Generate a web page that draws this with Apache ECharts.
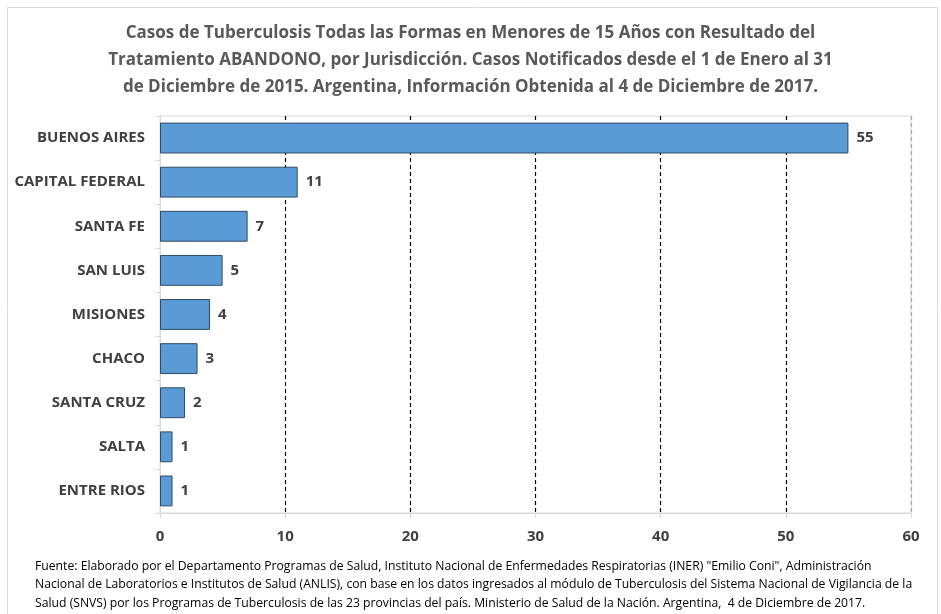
<!DOCTYPE html>
<html>
<head>
<meta charset="utf-8">
<script src="https://cdn.jsdelivr.net/npm/echarts@6/dist/echarts.min.js"></script>
<style>
  html, body { margin: 0; padding: 0; background: #fff; }
  #main { width: 941px; height: 614px; }
</style>
</head>
<body>
<div id="main"></div>
<script>
var jurisdicciones = ['BUENOS AIRES', 'CAPITAL FEDERAL', 'SANTA FE', 'SAN LUIS', 'MISIONES', 'CHACO', 'SANTA CRUZ', 'SALTA', 'ENTRE RIOS'];
var casos = [55, 11, 7, 5, 4, 3, 2, 1, 1];

var titulo = 'Casos de Tuberculosis Todas las Formas en Menores de 15 Años con Resultado del\n' +
    'Tratamiento ABANDONO, por Jurisdicción. Casos Notificados desde el 1 de Enero al 31\n' +
    'de Diciembre de 2015. Argentina, Información Obtenida al 4 de Diciembre de 2017.';
var fuente = 'Fuente: Elaborado por el Departamento Programas de Salud, Instituto Nacional de Enfermedades Respiratorias (INER) "Emilio Coni", Administración\n' +
    'Nacional de Laboratorios e Institutos de Salud (ANLIS), con base en los datos ingresados al módulo de Tuberculosis del Sistema Nacional de Vigilancia de la\n' +
    'Salud (SNVS) por los Programas de Tuberculosis de las 23 provincias del país. Ministerio de Salud de la Nación. Argentina,  4 de Diciembre de 2017.';

var fam = '"Open Sans", sans-serif';

var myChart = echarts.init(document.getElementById('main'));
var option = {
    backgroundColor: '#fff',
    animation: false,
    title: {
        text: titulo,
        left: 'center',
        top: 15,
        textStyle: {
            fontFamily: fam,
            fontSize: 17,
            fontWeight: 'bold',
            color: '#595959',
            lineHeight: 27
        }
    },
    graphic: [
        {
            type: 'rect',
            shape: { x: 7.5, y: 7.5, width: 930, height: 610 },
            style: { fill: 'none', stroke: '#d9d9d9', lineWidth: 1 },
            silent: true
        },
        {
            type: 'text',
            left: 35,
            top: 557,
            style: {
                text: fuente,
                fontFamily: fam,
                fontSize: 12.2,
                lineHeight: 18.5,
                fill: '#000'
            }
        }
    ],
    grid: {
        left: 160,
        right: 30,
        top: 116,
        bottom: 101,
        show: true,
        borderColor: '#d9d9d9',
        borderWidth: 1
    },
    xAxis: {
        type: 'value',
        min: 0,
        max: 60,
        interval: 10,
        axisLine: { show: true, lineStyle: { color: '#d9d9d9' } },
        axisTick: { show: true, length: 5, lineStyle: { color: '#d9d9d9' } },
        axisLabel: {
            margin: 16,
            fontFamily: fam,
            fontSize: 15,
            fontWeight: 'bold',
            color: '#404040'
        },
        splitLine: {
            show: true,
            showMinLine: false,
            lineStyle: {
                type: [4, 3],
                width: 1.2,
                color: ['#000', '#000', '#000', '#000', '#000', '#a6a6a6']
            }
        }
    },
    yAxis: {
        type: 'category',
        inverse: true,
        data: jurisdicciones,
        axisLine: { show: true, lineStyle: { color: '#d9d9d9' } },
        axisTick: { show: true, length: 5, lineStyle: { color: '#d9d9d9' } },
        axisLabel: {
            margin: 15,
            fontFamily: fam,
            fontSize: 15,
            fontWeight: 'bold',
            color: '#404040'
        }
    },
    series: [
        {
            name: 'Casos',
            type: 'bar',
            data: casos,
            barCategoryGap: '30%',
            itemStyle: {
                color: '#5b9bd5',
                borderColor: '#2f4a66',
                borderWidth: 1
            },
            label: {
                show: true,
                position: 'right',
                distance: 8,
                fontFamily: fam,
                fontSize: 15,
                fontWeight: 'bold',
                color: '#404040'
            }
        }
    ]
};
myChart.setOption(option);
</script>
</body>
</html>
